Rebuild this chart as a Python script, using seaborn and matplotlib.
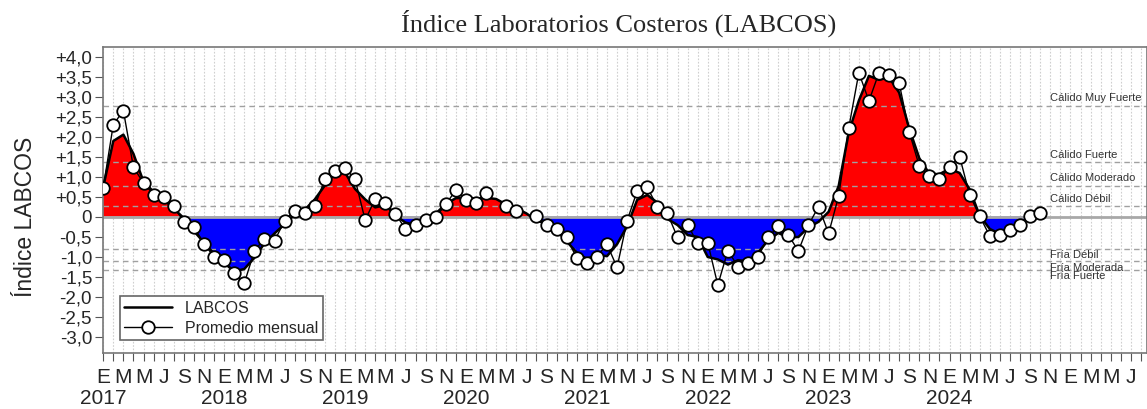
import matplotlib
matplotlib.use('Agg')
import matplotlib.pyplot as plt
from matplotlib.lines import Line2D
import numpy as np
import pandas as pd
import seaborn as sns

# monthly index: 0 = Jan 2017
monthly = [0.72, 2.30, 2.65, 1.23, 0.84, 0.55, 0.48, 0.27, -0.14, -0.25, -0.69, -1.00,
           -1.09, -1.40, -1.67, -0.86, -0.55, -0.61, -0.10, 0.15, 0.09, 0.27, 0.93, 1.14,
           1.22, 0.93, -0.09, 0.45, 0.34, 0.07, -0.31, -0.22, -0.09, -0.02, 0.31, 0.66,
           0.41, 0.33, 0.60, np.nan, 0.27, 0.14, np.nan, 0.01, -0.20, -0.31, -0.52, -1.04,
           -1.15, -1.00, -0.69, -1.27, -0.10, 0.64, 0.73, 0.25, 0.08, -0.52, -0.20, -0.67,
           -0.65, -1.71, -0.85, -1.25, -1.17, -1.00, -0.52, -0.24, -0.46, -0.86, -0.21, 0.25,
           -0.42, 0.52, 2.22, 3.60, 2.89, 3.60, 3.54, 3.34, 2.12, 1.26, 1.01, 0.93,
           1.23, 1.50, 0.54, 0.01, -0.49, -0.46, -0.34, -0.20, 0.01, 0.10]

labcos = [0.74, 1.89, 2.05, 1.57, 0.87, 0.62, 0.43, 0.20, -0.04, -0.36, -0.65, -0.93,
          -1.16, -1.37, -1.31, -1.03, -0.67, -0.42, -0.19, 0.05, 0.17, 0.43, 0.78, 1.08,
          1.10, 0.69, 0.43, 0.23, 0.29, 0.03, -0.15, -0.21, -0.11, 0.07, 0.32, 0.46,
          0.47, 0.45, 0.47, 0.44, 0.30, 0.21, 0.08, -0.10, -0.17, -0.34, -0.62, -0.90,
          -1.06, -0.95, -0.99, -0.69, -0.24, 0.42, 0.54, 0.35, -0.06, -0.21, -0.46, -0.51,
          -1.01, -1.07, -1.20, -1.09, -1.12, -0.90, -0.59, -0.41, -0.52, -0.51, -0.27, -0.13,
          0.12, 0.77, 2.11, 2.90, 3.52, 3.42, 3.48, 3.10, 2.20, 1.46, 1.07, 1.06,
          1.20, 1.09, 0.68, 0.02, -0.31, -0.43, -0.33, -0.18, -0.03]

thr_values = [2.77, 1.36, 0.77, 0.26, -0.80, -1.12, -1.33]
thr_names = ['Cálido Muy Fuerte', 'Cálido Fuerte', 'Cálido Moderado', 'Cálido Débil',
             'Fría Débil', 'Fría Moderada', 'Fría Fuerte']

month_letters = ['E', '', 'M', '', 'M', '', 'J', '', 'S', '', 'N', '']
years = [2017, 2018, 2019, 2020, 2021, 2022, 2023, 2024]
n_ticks = 104

df_m = pd.DataFrame({'mes': np.arange(len(monthly)), 'valor': monthly})
df_l = pd.DataFrame({'mes': np.arange(len(labcos)), 'labcos': labcos})

sns.set_style('white')
plt.rcParams['font.family'] = ['Liberation Sans', 'DejaVu Sans']

fig = plt.figure(figsize=(11.47, 4.09), dpi=100)
ax = fig.add_axes([0.09, 0.137, 0.91, 0.748])

# month grid
for i in range(n_ticks):
    ax.axvline(i, color='#cfcfcf', lw=0.8, ls=(0, (1.5, 1.5)), zorder=0)

x = df_l['mes'].values
y = df_l['labcos'].values
ax.fill_between(x, y, 0, where=y >= 0, interpolate=True, color='#ff0000', lw=0, zorder=1)
ax.fill_between(x, y, 0, where=y <= 0, interpolate=True, color='#0000ff', lw=0, zorder=1)

ax.axhline(0, color='#a8a8a8', lw=2, zorder=2)
for v, name in zip(thr_values, thr_names):
    ax.axhline(v, color='#a0a0a0', lw=1, ls=(0, (4, 3)), zorder=2)
    if v > 0:
        ax.text(94, v + 0.06, name, fontsize=8, color='#333333', va='bottom', ha='left')
    else:
        ax.text(94, v - 0.03, name, fontsize=8, color='#333333', va='top', ha='left')

sns.lineplot(data=df_l, x='mes', y='labcos', color='black', lw=1.8, ax=ax, zorder=3)
ax.plot(df_m['mes'], df_m['valor'], color='black', lw=1, marker='o', markersize=9,
        markerfacecolor='white', markeredgecolor='black', markeredgewidth=1.3, zorder=4)

ax.set_xlim(0, 103.6)
ax.set_ylim(-3.41, 4.24)

ticks = list(range(n_ticks))
ax.set_xticks(ticks)
ax.set_xticklabels([month_letters[i % 12] for i in ticks], fontsize=15)
# years as minor tick labels under January
ax.xaxis.remove_overlapping_locs = False
ax.set_xticks([12 * k for k in range(len(years))], minor=True)
ax.set_xticklabels([str(yr) for yr in years], minor=True, fontsize=15)

yt = np.arange(-3.0, 4.01, 0.5)
ylab = []
for v in yt:
    if abs(v) < 1e-9:
        ylab.append('0')
    else:
        ylab.append(('+' if v > 0 else '-') + ('%.1f' % abs(v)).replace('.', ','))
ax.set_yticks(yt)
ax.set_yticklabels(ylab, fontsize=13.5)

ax.tick_params(axis='x', which='major', direction='out', length=6, color='#555555', pad=5, bottom=True)
ax.tick_params(axis='x', which='minor', length=0, pad=26, bottom=True)
ax.tick_params(axis='y', direction='out', length=6, color='#555555', pad=2, left=True)
for s in ax.spines.values():
    s.set_color('#777777')
    s.set_linewidth(1.2)

ax.set_xlabel('')
ax.set_ylabel('Índice LABCOS', fontsize=16.5)
ax.yaxis.set_label_coords(-0.063, 0.445)

fig.text(0.539, 0.91, 'Índice Laboratorios Costeros (LABCOS)', family='Liberation Serif',
         fontsize=19, ha='center', va='bottom')

handles = [Line2D([], [], color='black', lw=1.8, label='LABCOS'),
           Line2D([], [], color='black', lw=1, marker='o', markersize=9, markerfacecolor='white',
                  markeredgecolor='black', markeredgewidth=1.3, label='Promedio mensual')]
leg = ax.legend(handles=handles, loc='lower left', bbox_to_anchor=(0.008, 0.015), fontsize=11.5,
                frameon=True, fancybox=False, edgecolor='#666666', handlelength=3.0,
                borderpad=0.3, labelspacing=0.3, framealpha=1)
leg.get_frame().set_linewidth(1.2)

fig.savefig('out.png', dpi=100)
